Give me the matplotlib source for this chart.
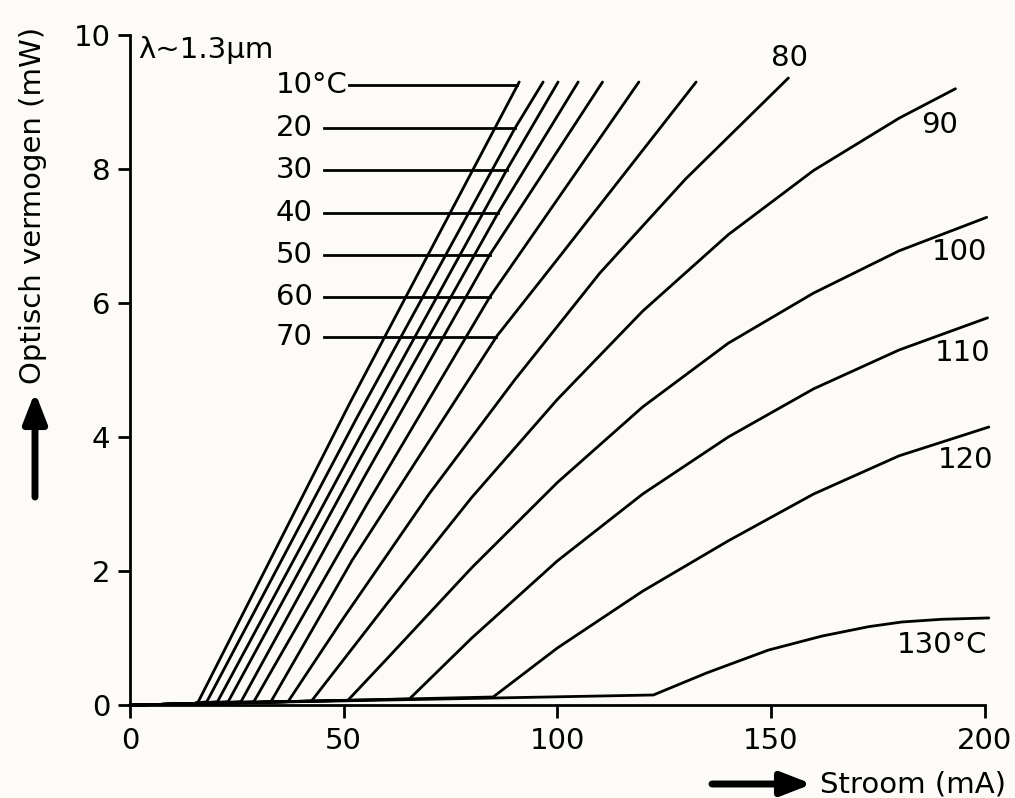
import matplotlib.pyplot as plt
import numpy as np

plt.rcParams['font.family'] = 'DejaVu Sans'
plt.rcParams['font.size'] = 21

# stroom I (mA) en optisch vermogen P (mW) per temperatuur
i10 = [0, 15, 16, 51.4, 91.1]
p10 = [0, 0.02, 0.05, 4.5, 9.3]
i20 = [0, 15, 18, 53.2, 90.1, 96.7]
p20 = [0, 0.02, 0.05, 4.3, 8.61, 9.3]
i30 = [0, 15, 20.5, 53.8, 88.2, 100.2]
p30 = [0, 0.02, 0.05, 4.0, 7.99, 9.3]
i40 = [0, 15, 23, 54.1, 86.1, 104.9]
p40 = [0, 0.02, 0.05, 3.7, 7.34, 9.3]
i50 = [0, 15, 26, 54.8, 84.2, 110.6]
p50 = [0, 0.02, 0.05, 3.4, 6.72, 9.3]
i60 = [0, 15, 29, 55.5, 84.2, 119.1]
p60 = [0, 0.02, 0.05, 3.0, 6.09, 9.3]
i70 = [0, 15, 33, 52, 85.9, 100, 132.5]
p70 = [0, 0.02, 0.05, 2.16, 5.51, 6.65, 9.3]
i80 = [0, 15, 37, 50, 70, 90, 110, 130, 154.1]
p80 = [0, 0.02, 0.05, 1.3, 3.15, 4.85, 6.45, 7.85, 9.36]
i90 = [0, 15, 42.5, 60, 80, 100, 120, 140, 160, 180, 193.2]
p90 = [0, 0.02, 0.06, 1.5, 3.1, 4.56, 5.88, 7.02, 7.98, 8.76, 9.2]
i100 = [0, 15, 51, 60, 80, 100, 120, 140, 160, 180, 200.5]
p100 = [0, 0.02, 0.07, 0.68, 2.05, 3.32, 4.45, 5.4, 6.15, 6.78, 7.28]
i110 = [0, 15, 65.4, 80, 100, 120, 140, 160, 180, 200.7]
p110 = [0, 0.02, 0.09, 1.0, 2.15, 3.15, 4.0, 4.72, 5.3, 5.78]
i120 = [0, 15, 85, 100, 120, 140, 160, 180, 201]
p120 = [0, 0.02, 0.12, 0.85, 1.7, 2.45, 3.15, 3.72, 4.15]
i130 = [0, 15, 122.5, 135, 149.4, 162, 172.9, 180.7, 190, 201]
p130 = [0, 0.02, 0.15, 0.48, 0.82, 1.03, 1.17, 1.24, 1.28, 1.30]

currents = [i10, i20, i30, i40, i50, i60, i70, i80, i90, i100, i110, i120, i130]
powers = [p10, p20, p30, p40, p50, p60, p70, p80, p90, p100, p110, p120, p130]

# labels links met verwijslijnen (10..70 graden)
left_labels = ['10°C', '20', '30', '40', '50', '60', '70']
left_label_y = [9.25, 8.61, 7.99, 7.34, 6.72, 6.09, 5.49]

# labels rechts bij de curves (80..130 graden)
right_labels = ['80', '90', '100', '110', '120', '130°C']
right_label_x = [154.4, 189.4, 194.1, 194.8, 195.5, 190.1]
right_label_y = [9.66, 8.66, 6.76, 5.25, 3.66, 0.9]

bg = '#fcfbf8'
fig = plt.figure(figsize=(10.15, 7.98), dpi=100, facecolor=bg)
ax = fig.add_axes([0.128, 0.1165, 0.842, 0.8395])
ax.set_facecolor(bg)

for I, P in zip(currents, powers):
    ax.plot(I, P, color='k', lw=2.0, solid_joinstyle='round',
            solid_capstyle='round', clip_on=False)

for k, (lab, y) in enumerate(zip(left_labels, left_label_y)):
    x_end = np.interp(y, powers[k], currents[k])
    x_start = 51.3 if k == 0 else 45.4
    ax.plot([x_start, x_end], [y, y], color='k', lw=2.0)
    ax.text(34.1, y, lab, ha='left', va='center')

for lab, x, y in zip(right_labels, right_label_x, right_label_y):
    ax.text(x, y, lab, ha='center', va='center')

ax.text(1.9, 9.78, 'λ~1.3μm', ha='left', va='center')

ax.set_xlim(0, 200)
ax.set_ylim(0, 10)
ax.set_xticks([0, 50, 100, 150, 200])
ax.set_yticks([0, 2, 4, 6, 8, 10])
for s in ['top', 'right']:
    ax.spines[s].set_visible(False)
for s in ['left', 'bottom']:
    ax.spines[s].set_linewidth(2.0)
ax.tick_params(direction='out', length=9, width=2.0, pad=5)
ax.tick_params(axis='x', pad=7)

# aslabels met dikke pijlen
fig.text(33 / 1015, (798 - 384) / 798, 'Optisch vermogen (mW)', rotation=90,
         ha='center', va='bottom')
fig.text(820 / 1015, (798 - 784) / 798, 'Stroom (mA)', ha='left', va='center')
arrow = dict(arrowstyle='-|>,head_length=0.9,head_width=0.35', lw=5, color='k',
             shrinkA=0, shrinkB=0, mutation_scale=20)
ax.annotate('', xy=(35, 798 - 392), xytext=(35, 798 - 497),
            xycoords='figure pixels', textcoords='figure pixels', arrowprops=arrow)
ax.annotate('', xy=(812, 798 - 784), xytext=(712, 798 - 784),
            xycoords='figure pixels', textcoords='figure pixels', arrowprops=arrow)

fig.savefig('out.png', dpi=100, facecolor=bg)
